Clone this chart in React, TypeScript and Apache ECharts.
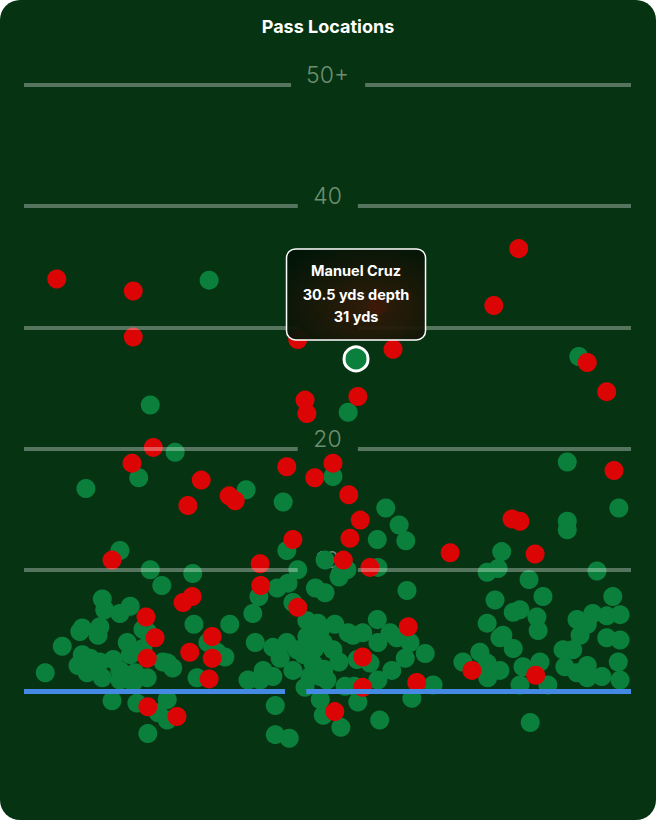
import React, { useEffect, useRef } from "react";
import * as echarts from "echarts";

const TITLE = "Pass Locations";

// Yard lines (depth in yards) and their labels
const yardLines = [0, 10, 20, 30, 40, 50];
const yardLabels = ["", "10", "20", "30", "40", "50+"];

// Field width is expressed 0..100 (left sideline to right sideline)
const X_MIN = 0;
const X_MAX = 100;
const Y_MIN = -10;
const Y_MAX = 55;

// Completed passes [field x, depth yds]
const completions: [number, number][] = [
  [30.5, 33.9], [91.4, 27.6], [20.8, 23.6], [53.4, 23.0], [24.9, 19.7], [18.9, 17.6],
  [10.2, 16.7], [36.6, 16.6], [42.7, 15.6], [50.9, 17.7], [89.5, 18.9], [98.0, 15.1],
  [89.5, 14.0], [89.5, 13.3], [59.6, 15.1], [61.8, 13.7], [62.9, 12.4], [58.2, 12.5],
  [15.8, 11.6], [49.6, 10.8], [52.1, 9.7], [58.3, 10.2], [63.1, 8.3], [78.7, 11.5],
  [78.1, 10.1], [76.3, 9.8], [83.2, 9.2], [85.5, 7.8], [94.4, 9.9], [97.0, 7.8],
  [77.6, 7.5], [76.3, 5.6], [80.6, 6.5], [81.7, 6.7], [84.5, 6.1], [84.7, 5.0],
  [91.1, 5.9], [92.8, 5.5], [93.7, 6.4], [96.0, 6.2], [98.2, 6.3], [78.9, 4.6],
  [58.2, 5.9], [55.8, 4.8], [53.4, 4.8], [60.3, 4.8],
  [20.8, 10.0], [22.7, 8.7], [27.8, 9.7], [12.9, 7.6], [13.3, 6.7], [15.8, 6.4],
  [17.5, 7.0], [9.6, 5.2], [12.5, 5.3], [19.6, 5.1], [28.0, 5.5], [33.9, 5.5],
  [37.7, 6.4], [38.7, 7.8], [41.7, 8.5], [43.5, 8.9], [45.1, 10.0], [43.3, 11.6],
  [48.0, 8.5], [49.6, 8.1], [44.3, 7.3], [47.6, 5.3], [48.4, 5.6], [53.2, 10.0],
  [51.9, 9.4],
  [6.3, 3.7], [3.5, 1.5], [9.6, 3.0], [10.9, 2.7], [8.9, 2.1], [10.4, 1.5],
  [12.9, 1.1], [12.5, 2.4], [14.7, 2.6], [15.8, 1.7], [17.0, 4.0], [17.5, 3.0],
  [15.8, 0.9], [18.3, 1.5], [18.0, 0.7], [20.3, 1.1], [19.6, 3.5], [12.2, 4.6],
  [9.2, 4.9], [23.7, 2.3], [24.5, 1.9], [22.9, 2.4], [28.5, 1.1], [31.8, 3.2],
  [33.1, 2.8], [30.3, 4.0], [36.9, 0.9], [38.1, 4.0], [39.4, 1.7], [41.0, 3.6],
  [42.2, 2.7], [43.3, 4.0], [45.0, 3.4], [46.6, 4.5], [47.6, 2.3], [48.8, 1.2],
  [47.1, 1.2], [44.3, 1.7], [41.0, 1.2], [38.9, 0.9], [20.3, 4.9],
  [14.5, -0.8], [18.6, -1.0], [23.6, -0.7], [22.1, -1.8], [23.6, -2.4], [20.4, -3.5],
  [41.4, -1.2], [41.4, -3.6], [43.7, -3.9], [48.8, -0.7], [49.3, -2.0],
  [54.2, 4.6], [58.3, 4.0], [61.4, 4.4], [63.6, 4.0], [66.1, 3.1], [62.8, 2.7],
  [60.6, 1.7], [58.3, 0.9], [57.0, 2.3], [54.9, 2.6], [50.9, 3.4], [49.3, 4.0],
  [49.9, 0.9], [67.4, 0.5], [63.9, -0.6], [55.0, -0.9], [52.2, -3.0], [58.6, -2.4],
  [46.6, 5.8], [48.8, 5.0], [51.2, 5.5], [46.1, 3.0], [47.9, 3.5], [51.9, 2.4],
  [49.4, 1.8], [46.3, 0.3], [52.9, 0.4], [54.4, 0.4],
  [72.3, 2.4], [75.1, 3.2], [78.4, 4.4], [80.6, 3.5], [76.3, 2.3], [78.4, 1.7],
  [76.4, 1.1], [81.7, 0.5], [82.2, 2.0], [85.0, 2.4], [86.3, 0.5], [83.4, -2.6],
  [88.8, 3.4], [90.4, 3.4], [89.1, 2.0], [91.1, 1.5], [92.8, 2.1], [95.2, 1.2],
  [92.8, 1.1], [97.9, 2.4], [98.2, 0.9], [91.6, 4.6], [96.0, 4.4], [98.2, 4.2],
];

// Incomplete passes [field x, depth yds]
const incompletions: [number, number][] = [
  [5.4, 34.0], [18.0, 33.0], [18.0, 29.2], [45.1, 29.0], [58.3, 31.8], [60.8, 28.2],
  [77.4, 31.8], [81.5, 36.5], [92.8, 27.1], [96.0, 24.7], [97.2, 18.2], [46.3, 24.0],
  [46.6, 22.9], [55.0, 24.3], [21.3, 20.1], [17.8, 18.8], [29.2, 17.4], [27.0, 15.3],
  [33.8, 16.1], [34.8, 15.7], [43.3, 18.5], [47.9, 17.6], [50.9, 18.8], [53.5, 16.2],
  [55.4, 14.1], [53.7, 12.6], [52.6, 10.8], [44.3, 12.5], [38.9, 10.5], [39.0, 8.7],
  [57.0, 10.2], [70.2, 11.4], [80.4, 14.2], [81.7, 14.0], [84.2, 11.3], [14.5, 10.8],
  [26.2, 7.3], [27.7, 7.8], [45.1, 6.9], [20.1, 6.1], [21.6, 4.4], [20.3, 2.7],
  [31.0, 4.5], [31.0, 2.7], [30.5, 1.0], [27.3, 3.2], [20.4, -1.3], [25.2, -2.1],
  [55.8, 0.3], [51.2, -1.7], [64.7, 0.7], [73.8, 1.7], [84.3, 1.3], [63.3, 5.3],
  [55.8, 2.8],
];

// Highlighted pass shown with the tooltip
const highlightName = "Manuel Cruz";
const highlightDepth = 30.5;
const highlightYards = 31;
const highlightPoint: [number, number] = [54.7, 27.4];

const BG = "#063412";
const GREEN = "#0b803d";
const RED = "#dc0505";
const LINE = "rgba(255,255,255,0.32)";
const LOS = "#4489e4";
const FONT = "Inter, 'Noto Sans', sans-serif";

export default function App() {
  const ref = useRef<HTMLDivElement>(null);

  useEffect(() => {
    document.body.style.margin = "0";
    if (!ref.current) return;
    const chart = echarts.init(ref.current, undefined, { renderer: "svg" });

    const gapFor = (lbl: string): [number, number] =>
      lbl === "50+" ? [44.0, 56.2] : [45.1, 55.0];

    const yardSegs: any[] = [];
    const losSegs: any[] = [];
    yardLines.forEach((y, i) => {
      if (y === 0) {
        losSegs.push([{ coord: [X_MIN, y] }, { coord: [43.0, y] }]);
        losSegs.push([{ coord: [46.5, y] }, { coord: [X_MAX, y] }]);
        return;
      }
      const [a, b] = gapFor(yardLabels[i]);
      yardSegs.push([{ coord: [X_MIN, y] }, { coord: [a, y] }]);
      yardSegs.push([{ coord: [b, y] }, { coord: [X_MAX, y] }]);
    });

    const baseOption: any = {
      animation: false,
      backgroundColor: "transparent",
      title: {
        text: TITLE,
        left: "center",
        top: 12,
        textStyle: {
          color: "#ffffff",
          fontSize: 18,
          fontWeight: "bold",
          fontFamily: FONT,
        },
      },
      grid: { left: 24, right: 25, top: 24.4, bottom: 7.8 },
      xAxis: { type: "value", min: X_MIN, max: X_MAX, show: false },
      yAxis: { type: "value", min: Y_MIN, max: Y_MAX, show: false },
    };
    chart.setOption(baseOption);

    // Tooltip box geometry, anchored to the highlighted point
    const [px, py] = chart.convertToPixel({ gridIndex: 0 }, highlightPoint) as number[];
    const w = 139;
    const h = 91;
    const left = px - w / 2;
    const top = py - 19 - h;

    // Yard labels: hide any that sit underneath the tooltip box
    const labelData = yardLines
      .map((y, i) => ({ value: [50, y], name: yardLabels[i] }))
      .filter((d) => {
        if (d.name === "") return false;
        const [lx, ly] = chart.convertToPixel({ gridIndex: 0 }, d.value) as number[];
        const hidden = lx > left && lx < left + w && ly - 10 > top && ly - 10 < top + h;
        return !hidden;
      });

    const txt = (t: string, dy: number) => ({
      type: "text",
      z: 101,
      zlevel: 1,
      x: px,
      y: top + dy,
      style: {
        text: t,
        fill: "#ffffff",
        fontSize: 14.5,
        fontWeight: "bold",
        fontFamily: FONT,
        align: "center",
        verticalAlign: "middle",
      },
    });

    chart.setOption({
      series: [
        {
          type: "scatter",
          data: [],
          silent: true,
          z: 1,
          markLine: {
            silent: true,
            symbol: ["none", "none"],
            label: { show: false },
            lineStyle: { color: LINE, width: 4, type: "solid" },
            data: yardSegs,
          },
        },
        {
          type: "scatter",
          data: [],
          silent: true,
          z: 1,
          markLine: {
            silent: true,
            symbol: ["none", "none"],
            label: { show: false },
            lineStyle: { color: LOS, width: 5, type: "solid" },
            data: losSegs,
          },
        },
        {
          type: "scatter",
          z: 2,
          silent: true,
          symbolSize: 0,
          data: labelData,
          label: {
            show: true,
            position: "inside",
            offset: [0, -10],
            formatter: (p: any) => p.name,
            color: "#8aa88b",
            fontSize: 23,
            fontWeight: 300,
            fontFamily: FONT,
          },
        },
        {
          name: "Complete",
          type: "scatter",
          z: 3,
          symbolSize: 19,
          itemStyle: { color: GREEN, opacity: 1 },
          data: completions,
        },
        {
          name: "Incomplete",
          type: "scatter",
          z: 4,
          symbolSize: 19,
          itemStyle: { color: RED, opacity: 1 },
          data: incompletions,
        },
        {
          name: "Selected",
          type: "scatter",
          z: 5,
          symbolSize: 24,
          itemStyle: { color: GREEN, borderColor: "#ffffff", borderWidth: 3, opacity: 1 },
          data: [highlightPoint],
        },
      ],
      graphic: {
        elements: [
          {
            type: "rect",
            z: 100,
            zlevel: 1,
            shape: { x: left, y: top, width: w, height: h, r: 9 },
            style: {
              fill: new echarts.graphic.RadialGradient(0.6, 0.65, 0.75, [
                { offset: 0, color: "rgba(52,26,8,0.93)" },
                { offset: 1, color: "rgba(2,20,7,0.95)" },
              ]),
              stroke: "#ffffff",
              lineWidth: 1.5,
            },
          },
          txt(highlightName, 22),
          txt(`${highlightDepth} yds depth`, 46),
          txt(`${highlightYards} yds`, 68),
        ],
      },
    });

    return () => chart.dispose();
  }, []);

  return (
    <div
      style={{
        width: 656,
        height: 820,
        background: BG,
        borderRadius: 20,
        overflow: "hidden",
      }}
    >
      <div ref={ref} style={{ width: 656, height: 820 }} />
    </div>
  );
}
